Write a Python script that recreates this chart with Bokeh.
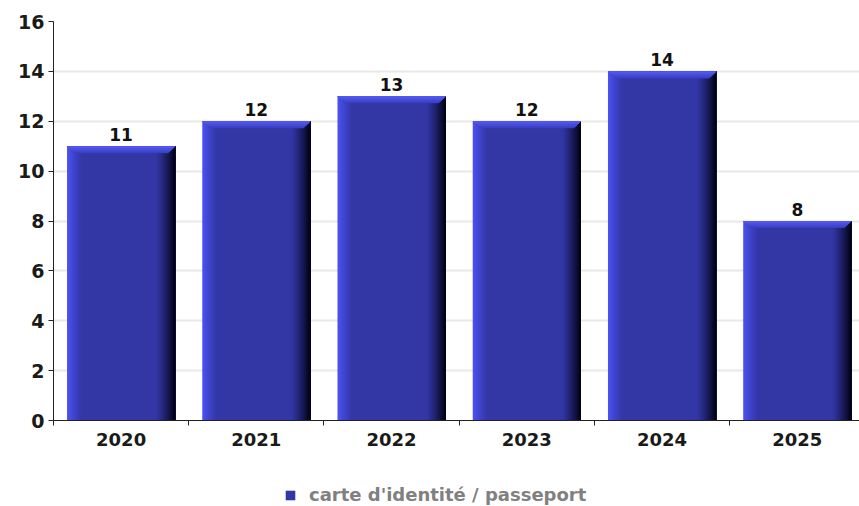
from bokeh.plotting import figure
from bokeh.layouts import column
from bokeh.models import Range1d, FixedTicker, Legend, LegendItem, ColumnDataSource
from bokeh.core.properties import value
from bokeh.embed import file_html
from bokeh.resources import INLINE

# ---- data ----
years = ["2020", "2021", "2022", "2023", "2024", "2025"]
counts = [11, 12, 13, 12, 14, 8]
y_ticks = [0, 2, 4, 6, 8, 10, 12, 14, 16]
series_name = "carte d'identité / passeport"

# ---- geometry / style ----
W = 859
H_CHART, H_LEG = 460, 46
BL, BT, BB, BR = 53, 21, 40, 0
X0, X1 = 0, 5.96
Y0, Y1 = 0, 16
PPX = (W - BL - BR) / (X1 - X0)
PPY = (H_CHART - BT - BB) / (Y1 - Y0)

MAIN = "#3337a6"
BRIGHT = "#4c52f4"
DARK = "#020214"
TOP_HI = "#5359f6"
TOP_LO = "#3b3fbe"
FONT = "DejaVu Sans"

BAR_PAD = 0.1
LEFT_PX, RIGHT_PX, BEVEL_PX = 14, 19, 7
NL, NR, NT = 14, 19, 7


def hex2rgb(h):
    h = h.lstrip("#")
    return [int(h[i:i + 2], 16) for i in (0, 2, 4)]


def lerp(c1, c2, t):
    a, b = hex2rgb(c1), hex2rgb(c2)
    return "#%02x%02x%02x" % tuple(int(round(a[j] + (b[j] - a[j]) * t)) for j in range(3))


p = figure(width=W, height=H_CHART, x_range=Range1d(X0, X1), y_range=Range1d(Y0, Y1),
           output_backend="svg", toolbar_location=None,
           min_border_left=BL, min_border_top=BT, min_border_bottom=BB, min_border_right=BR)
p.outline_line_color = None
p.background_fill_color = "white"
p.border_fill_color = "white"

lw = LEFT_PX / PPX
rw = RIGHT_PX / PPX
bh = BEVEL_PX / PPY
bx = BEVEL_PX / PPX

# painter's-order stacked strips (each strip runs to the far edge -> no seams)
strips = dict(l=[], r=[], t=[], b=[], c=[])
tops = dict(xs=[], ys=[], c=[])
for i, v in enumerate(counts):
    x0 = i + BAR_PAD
    x1 = i + 1 - BAR_PAD
    for k in range(NL + 1):
        strips["l"].append(x0 + k * lw / NL)
        strips["r"].append(x1)
        strips["t"].append(v); strips["b"].append(0)
        strips["c"].append(lerp(BRIGHT, MAIN, (k / NL) ** 0.85))
    for k in range(1, NR + 1):
        strips["l"].append(x1 - rw + (k - 1) * rw / NR)
        strips["r"].append(x1)
        strips["t"].append(v); strips["b"].append(0)
        strips["c"].append(lerp(MAIN, DARK, (k / NR) ** 1.25))
    for k in range(NT):
        yt = v
        yb = v - (k + 1) * bh / NT
        ib = (k + 1) * bx / NT
        tops["xs"].append([x0, x1, x1 - ib, x0 + ib])
        tops["ys"].append([yt, yt, yb, yb])
        tops["c"].append(lerp(TOP_HI, TOP_LO, k / (NT - 1)))
tops = {k: list(reversed(vv)) for k, vv in tops.items()}

p.quad(left="l", right="r", top="t", bottom="b", source=ColumnDataSource(strips),
       fill_color="c", line_color=None)
p.patches(xs="xs", ys="ys", source=ColumnDataSource(tops), fill_color="c", line_color=None)

centers = [i + 0.5 for i in range(len(years))]
p.text(x=centers, y=counts, text=[str(c) for c in counts],
       text_align="center", text_baseline="bottom", y_offset=-5,
       text_font=value(FONT), text_font_style="bold", text_font_size="17px", text_color="#111111")

# axes
xa = p.xaxis[0]
xa.ticker = FixedTicker(ticks=centers, minor_ticks=list(range(len(years) + 1)))
xa.major_label_overrides = {c: y for c, y in zip(centers, years)}
xa.major_tick_out = 0
xa.major_tick_in = 0
xa.minor_tick_out = 5
xa.minor_tick_in = 0
xa.minor_tick_line_color = "#222222"
xa.axis_line_color = "#222222"
xa.major_label_text_font = FONT
xa.major_label_text_font_style = "bold"
xa.major_label_text_font_size = "18px"
xa.major_label_text_color = "#1a1a1a"
xa.major_label_standoff = 7

ya = p.yaxis[0]
ya.ticker = FixedTicker(ticks=y_ticks)
ya.minor_tick_line_color = None
ya.major_tick_out = 5
ya.major_tick_in = 0
ya.major_tick_line_color = "#222222"
ya.axis_line_color = "#222222"
ya.major_label_text_font = FONT
ya.major_label_text_font_style = "bold"
ya.major_label_text_font_size = "19px"
ya.major_label_text_color = "#1a1a1a"
ya.major_label_standoff = 4

p.xgrid.grid_line_color = None
p.ygrid.ticker = FixedTicker(ticks=y_ticks)
p.ygrid.grid_line_color = "#e8e8e8"
p.ygrid.grid_line_width = 2

# ---- legend strip (separate figure below the chart) ----
# the swatch renderer holds the series but lies outside this strip's visible range
q = figure(width=W, height=H_LEG, x_range=Range1d(X0, X1), y_range=Range1d(-3, -2),
           output_backend="svg", toolbar_location=None,
           x_axis_type=None, y_axis_type=None,
           min_border_left=BL, min_border_right=BR, min_border_top=0, min_border_bottom=0)
q.outline_line_color = None
q.xgrid.grid_line_color = None
q.ygrid.grid_line_color = None
r_leg = q.quad(left=[i + BAR_PAD for i in range(len(counts))],
               right=[i + 1 - BAR_PAD for i in range(len(counts))],
               top=counts, bottom=[0] * len(counts), fill_color=MAIN, line_color=None)
legend = Legend(items=[LegendItem(label=series_name, renderers=[r_leg])],
                location=(231, 1), orientation="horizontal",
                glyph_width=12, glyph_height=12, label_standoff=13,
                label_text_font=FONT, label_text_font_style="bold",
                label_text_font_size="18px", label_text_color="#808080",
                border_line_color=None, background_fill_alpha=0,
                padding=0, margin=0)
q.add_layout(legend, "center")

layout = column(p, q, spacing=0)
open("out.html", "w").write(file_html(layout, INLINE))
